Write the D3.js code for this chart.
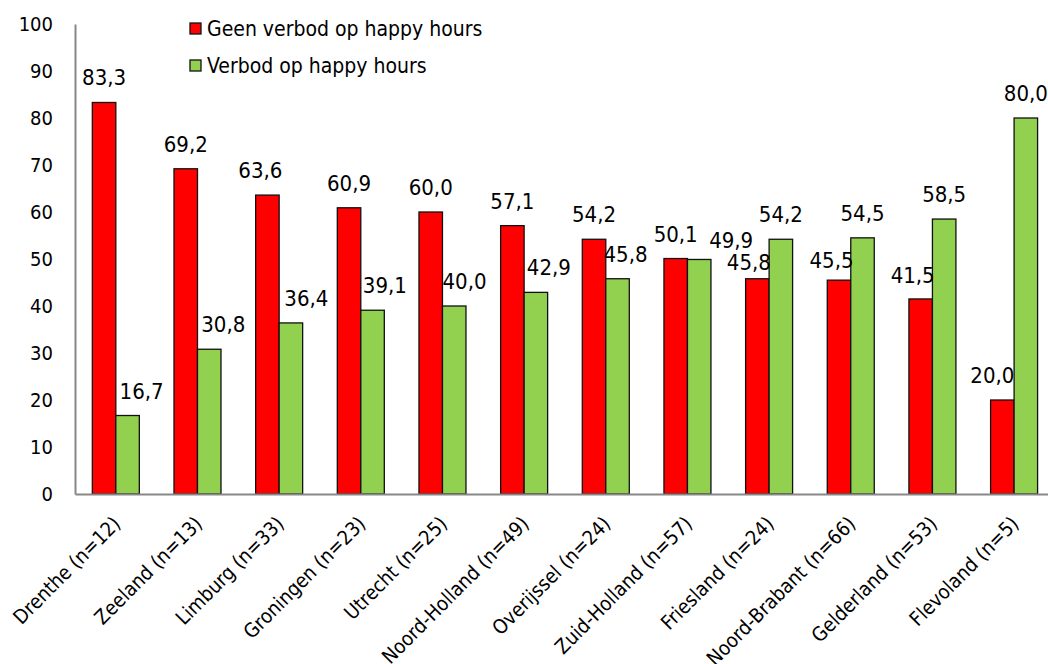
<!DOCTYPE html>
<html>
<head>
<meta charset="utf-8">
<script src="https://cdn.jsdelivr.net/npm/d3@7/dist/d3.min.js"></script>
<style>
  html, body { margin: 0; padding: 0; background: #fff; }
  svg { display: block; }
  text { font-family: "DejaVu Sans Condensed", "DejaVu Sans", sans-serif; fill: #000; }
</style>
</head>
<body>
<svg id="chart" width="1048" height="664"></svg>
<script>
// ---- data ----
const categories = ["Drenthe (n=12)", "Zeeland (n=13)", "Limburg (n=33)", "Groningen (n=23)",
  "Utrecht (n=25)", "Noord-Holland (n=49)", "Overijssel (n=24)", "Zuid-Holland (n=57)",
  "Friesland (n=24)", "Noord-Brabant (n=66)", "Gelderland (n=53)", "Flevoland (n=5)"];
const seriesNames = ["Geen verbod op happy hours", "Verbod op happy hours"];
const geenVerbod = [83.3, 69.2, 63.6, 60.9, 60.0, 57.1, 54.2, 50.1, 45.8, 45.5, 41.5, 20.0];
const verbod     = [16.7, 30.8, 36.4, 39.1, 40.0, 42.9, 45.8, 49.9, 54.2, 54.5, 58.5, 80.0];
const yTicks = [0, 10, 20, 30, 40, 50, 60, 70, 80, 90, 100];

// ---- label nudges (style: manual label placement in the original) ----
const labelNudge = {
  "Geen verbod op happy hours": [[0,0],[0,0],[-7,0],[0,0],[0,0],[0,0],[0,0],[0,0],[-8.5,8],[-7.5,5],[-8,1],[-10,0]],
  "Verbod op happy hours": [[14,0],[14,0],[15.5,0],[12.3,0],[10.3,0],[13,0],[8,0],[32,6],[0,0],[0,0],[0,0],[0,0]]
};
const colors = { "Geen verbod op happy hours": "#FF0000", "Verbod op happy hours": "#92D050" };

const svg = d3.select("#chart");
const mLeft = 75, mBottom = 494, mTop = 24, step = 81.66;
const x0 = d3.scaleBand().domain(categories).range([mLeft, mLeft + step * categories.length])
  .paddingInner(0.4245).paddingOuter(0.4245 / 2);
const x1 = d3.scaleBand().domain(seriesNames).range([0, x0.bandwidth()]).padding(0);
const y = d3.scaleLinear().domain([0, 100]).range([mBottom, mTop]);

const fmt = v => d3.format(".1f")(v).replace(".", ",");

const series = seriesNames.map((name, si) => ({
  name, values: (si === 0 ? geenVerbod : verbod)
}));

const g = svg.append("g");

// bars
series.forEach(s => {
  g.selectAll(null).data(s.values).enter().append("rect")
    .attr("x", (d, i) => x0(categories[i]) + x1(s.name))
    .attr("y", d => y(d))
    .attr("width", x1.bandwidth())
    .attr("height", d => y(0) - y(d))
    .attr("fill", colors[s.name])
    .attr("stroke", "#111")
    .attr("stroke-width", 1.3);
});

// axes
const yAxis = d3.axisLeft(y).tickValues(yTicks).tickSize(0).tickSizeOuter(0).tickPadding(22)
  .tickFormat(d3.format("d"));
const ya = svg.append("g").attr("transform", `translate(${mLeft},0)`).call(yAxis);
ya.select(".domain").attr("stroke", "#878787").attr("stroke-width", 2);
ya.selectAll("text").style("font-size", "20px").attr("font-family", null).attr("fill", "#000");

const xAxis = d3.axisBottom(x0).tickSize(0).tickSizeOuter(0).tickPadding(0);
const xa = svg.append("g").attr("transform", `translate(0,${mBottom})`).call(xAxis);
xa.select(".domain").attr("stroke", "#878787").attr("stroke-width", 2);
xa.selectAll(".tick text")
  .attr("font-family", null)
  .attr("fill", "#000")
  .style("font-size", "20px")
  .attr("text-anchor", "end")
  .attr("dy", null)
  .attr("y", null)
  .attr("transform", "translate(6,31) rotate(-45)");

// value labels
series.forEach(s => {
  g.selectAll(null).data(s.values).enter().append("text")
    .attr("x", (d, i) => x0(categories[i]) + x1(s.name) + x1.bandwidth() / 2 + labelNudge[s.name][i][0])
    .attr("y", (d, i) => y(d) - 17 + labelNudge[s.name][i][1])
    .attr("text-anchor", "middle")
    .style("font-size", "22px")
    .text(d => fmt(d));
});

// legend
const legend = svg.append("g").attr("transform", "translate(190,23)");
seriesNames.forEach((name, i) => {
  const row = legend.append("g").attr("transform", `translate(0,${i * 37})`);
  row.append("rect").attr("width", 11).attr("height", 11)
    .attr("fill", colors[name]).attr("stroke", "#111").attr("stroke-width", 1.3);
  row.append("text").attr("x", 17).attr("y", 12.5).style("font-size", "21px").text(name);
});
</script>
</body>
</html>
